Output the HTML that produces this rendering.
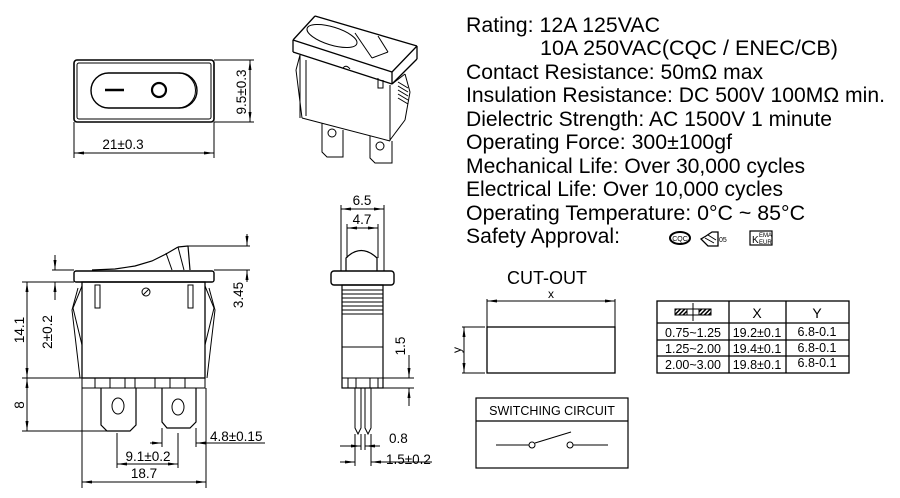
<!DOCTYPE html>
<html><head><meta charset="utf-8"><style>
body{margin:0;background:#fff}
svg{display:block}
text{font-family:"Liberation Sans",Arial,sans-serif;fill:#000}
.g path,.g rect,.g ellipse,.g circle,.g line,.g polyline,.g polygon{fill:none}
</style></head><body>
<svg width="900" height="498" viewBox="0 0 900 498" xmlns="http://www.w3.org/2000/svg">
<defs>
<marker id="a" viewBox="0 0 10 6" refX="10" refY="3" markerWidth="10" markerHeight="6" orient="auto-start-reverse" markerUnits="userSpaceOnUse"><path d="M0,1.5L10,3L0,4.5z" style="fill:#000"/></marker>
<pattern id="h" width="3" height="3" patternUnits="userSpaceOnUse" patternTransform="rotate(45)"><rect width="1.5" height="3" style="fill:#000"/></pattern>
</defs>
<rect x="0" y="0" width="900" height="498" fill="#fff"/>
<g class="g" stroke="#000" stroke-width="1" fill="none">
<!-- top view -->
<rect x="74" y="60" width="140" height="62" rx="3" stroke-width="1.6"/>
<rect x="77" y="63" width="134" height="56" rx="2"/>
<rect x="91" y="73" width="106" height="35" rx="17.5" stroke-width="1.4"/>
<path d="M108,73 H178 A17.5,17.5 0 0 1 178,108 H108" />
<line x1="105" y1="90" x2="124" y2="90" stroke-width="2.5"/>
<circle cx="159" cy="90" r="7" stroke-width="2.2"/>
<line x1="74" y1="122" x2="74" y2="158"/><line x1="214" y1="122" x2="214" y2="158"/>
<line x1="74" y1="153" x2="214" y2="153" marker-start="url(#a)" marker-end="url(#a)"/>
<line x1="214" y1="60" x2="254" y2="60"/><line x1="214" y1="122" x2="254" y2="122"/>
<line x1="250" y1="60" x2="250" y2="122" marker-start="url(#a)" marker-end="url(#a)"/>

<!-- perspective -->
<line x1="300" y1="55" x2="296" y2="70"/><line x1="296" y1="70" x2="302" y2="118"/>
<line x1="302" y1="118" x2="390" y2="141"/><line x1="390" y1="141" x2="390" y2="85"/>
<line x1="300" y1="55" x2="300" y2="118"/><line x1="306" y1="60" x2="306" y2="116"/>
<line x1="392" y1="84" x2="405" y2="74"/><line x1="405" y1="74" x2="410" y2="92"/><line x1="410" y1="92" x2="405" y2="120"/><line x1="405" y1="120" x2="390" y2="140"/>
<path d="M398,82 L408,88 M398,86 L408,92 M398,90 L408,96 M398,94 L408,100 M398,98 L408,104"/>
<line x1="293" y1="40" x2="315" y2="16" stroke-width="1.3"/>
<line x1="315" y1="16" x2="417" y2="46" stroke-width="1.3"/>
<line x1="417" y1="46" x2="392" y2="72" stroke-width="1.3"/>
<line x1="392" y1="72" x2="293" y2="40" stroke-width="1.3"/>
<line x1="293" y1="40" x2="293" y2="52" stroke-width="1.3"/>
<line x1="293" y1="52" x2="392" y2="84" stroke-width="1.3"/>
<line x1="392" y1="84" x2="417" y2="59" stroke-width="1.3"/>
<line x1="417" y1="59" x2="417" y2="46" stroke-width="1.3"/>
<line x1="392" y1="72" x2="392" y2="84" stroke-width="1.3"/>
<ellipse cx="332" cy="36" rx="26" ry="9" transform="rotate(17 332 36)"/>
<line x1="355" y1="33" x2="372" y2="58"/><line x1="372" y1="58" x2="388" y2="52"/><line x1="388" y1="52" x2="378" y2="36"/>
<path d="M322,123 V152 L327,157 H343 V130"/>
<circle cx="332" cy="133" r="4"/>
<path d="M370,136 V158 L375,163 H392 V141"/>
<circle cx="380" cy="146" r="4"/>
<path d="M343,68 Q346,64 350,69"/>
<path d="M378,78 V88 H383 V80"/>

<!-- front view -->
<polyline points="92,270 115,269 135,266 152,261 166,254 178,247" stroke-width="1.2"/>
<line x1="178" y1="247" x2="188" y2="246" stroke-width="1.2"/><line x1="188" y1="246" x2="190" y2="270" stroke-width="1.2"/>
<line x1="166" y1="253" x2="172" y2="270"/><line x1="178" y1="247" x2="184" y2="270"/>
<rect x="74" y="271" width="140" height="11" rx="2" stroke-width="1.4"/>
<rect x="82" y="282" width="123" height="96" stroke-width="1.3"/>
<polyline points="82,286 73,308 82,345"/>
<polyline points="205,286 214,308 205,345"/>
<polyline points="78,288 72,310 80,378"/>
<polyline points="209,288 215,310 207,378"/>
<rect x="95" y="285" width="5" height="23"/><rect x="188" y="285" width="5" height="23"/>
<circle cx="146" cy="292" r="4"/><line x1="143" y1="295" x2="149" y2="289"/>
<rect x="82" y="378" width="123" height="10"/>
<path d="M95,378v10M110,378v10M125,378v10M135,378v10M155,378v10M170,378v10M185,378v10"/>
<polyline points="101,388 101,425 107,431 130,431 136,425 136,388" stroke-width="1.2"/>
<polyline points="162,388 162,422 167,428 190,428 196,422 196,388" stroke-width="1.2"/>
<ellipse cx="118" cy="406" rx="6" ry="8"/><ellipse cx="178" cy="407" rx="6" ry="8"/>
<!-- front dims -->
<line x1="52" y1="270" x2="74" y2="270"/><line x1="188" y1="246" x2="250" y2="246"/><line x1="214" y1="270" x2="250" y2="270"/>
<line x1="247" y1="234" x2="247" y2="246" marker-end="url(#a)"/><line x1="247" y1="282" x2="247" y2="270" marker-end="url(#a)"/>
<line x1="55" y1="255" x2="55" y2="270" marker-end="url(#a)"/><line x1="55" y1="300" x2="55" y2="282" marker-end="url(#a)"/>
<line x1="22" y1="282" x2="74" y2="282"/><line x1="22" y1="378" x2="82" y2="378"/><line x1="22" y1="431" x2="107" y2="431"/>
<line x1="27" y1="282" x2="27" y2="378" marker-start="url(#a)" marker-end="url(#a)"/>
<line x1="27" y1="378" x2="27" y2="431" marker-start="url(#a)" marker-end="url(#a)"/>
<line x1="82" y1="388" x2="82" y2="488"/><line x1="206" y1="388" x2="206" y2="488"/>
<line x1="82" y1="482" x2="206" y2="482" marker-start="url(#a)" marker-end="url(#a)"/>
<line x1="117" y1="433" x2="117" y2="468"/><line x1="178" y1="433" x2="178" y2="468"/>
<line x1="117" y1="464" x2="178" y2="464" marker-start="url(#a)" marker-end="url(#a)"/>
<line x1="162" y1="428" x2="162" y2="447"/><line x1="196" y1="428" x2="196" y2="447"/>
<line x1="150" y1="443" x2="162" y2="443" marker-end="url(#a)"/><line x1="208" y1="443" x2="196" y2="443" marker-end="url(#a)"/><line x1="196" y1="443" x2="265" y2="443"/>

<!-- side view -->
<path d="M346,271 V258 Q361,243 377,258 V271" stroke-width="1.2"/>
<rect x="331" y="271" width="63" height="14" rx="3" stroke-width="1.4"/>
<rect x="342" y="285" width="41" height="103" stroke-width="1.2"/>
<path d="M342,290H383M342,294H383M342,298H383M342,302H383M342,306H383M342,310H383M342,314H383"/>
<line x1="342" y1="347" x2="383" y2="347"/>
<line x1="342" y1="378" x2="383" y2="378"/>
<path d="M348,378v10M356,378v10M370,378v10M378,378v10"/>
<polyline points="355,388 355,428 358,434 361,428 361,388"/>
<polyline points="365,388 365,428 368,434 371,428 371,388"/>
<line x1="341" y1="205" x2="341" y2="271"/><line x1="384" y1="205" x2="384" y2="271"/>
<line x1="341" y1="209" x2="384" y2="209" marker-start="url(#a)" marker-end="url(#a)"/>
<line x1="347" y1="224" x2="347" y2="258"/><line x1="378" y1="224" x2="378" y2="258"/>
<line x1="347" y1="228" x2="378" y2="228" marker-start="url(#a)" marker-end="url(#a)"/>
<line x1="383" y1="378" x2="414" y2="378"/><line x1="383" y1="388" x2="414" y2="388"/>
<line x1="409" y1="355" x2="409" y2="378" marker-end="url(#a)"/><line x1="409" y1="406" x2="409" y2="388" marker-end="url(#a)"/>
<line x1="355" y1="434" x2="355" y2="466"/><line x1="361" y1="434" x2="361" y2="450"/><line x1="365" y1="434" x2="365" y2="450"/><line x1="371" y1="434" x2="371" y2="466"/>
<line x1="340" y1="446" x2="361" y2="446" marker-end="url(#a)"/><line x1="380" y1="446" x2="365" y2="446" marker-end="url(#a)"/>
<line x1="340" y1="462" x2="355" y2="462" marker-end="url(#a)"/><line x1="386" y1="462" x2="371" y2="462" marker-end="url(#a)"/><line x1="371" y1="462" x2="432" y2="462"/>

<!-- cutout -->
<rect x="487" y="327" width="128" height="46" stroke-width="1.3"/>
<line x1="487" y1="299" x2="487" y2="327"/><line x1="615" y1="299" x2="615" y2="327"/>
<line x1="487" y1="301" x2="615" y2="301" marker-start="url(#a)" marker-end="url(#a)"/>
<line x1="462" y1="327" x2="485" y2="327"/><line x1="462" y1="373" x2="485" y2="373"/>
<line x1="464" y1="327" x2="464" y2="373" marker-start="url(#a)" marker-end="url(#a)"/>
<!-- table -->
<rect x="657" y="301" width="192" height="72" stroke-width="1.3"/>
<path d="M729,301V373M786,301V373M657,323H849M657,340H849M657,356H849" stroke-width="1.3"/>
<rect x="675" y="309" width="36" height="6" style="fill:url(#h)"/>
<rect x="687" y="309" width="12" height="6" style="fill:#fff"/>
<line x1="693" y1="303" x2="693" y2="321"/>
<!-- switching circuit -->
<rect x="476" y="398" width="152" height="70" stroke-width="1.2"/>
<line x1="476" y1="421" x2="628" y2="421" stroke-width="1.2"/>
<line x1="496" y1="445" x2="529" y2="445"/><circle cx="532" cy="445" r="3"/>
<line x1="535" y1="443" x2="571" y2="432"/><circle cx="570" cy="445" r="3"/>
<line x1="573" y1="445" x2="608" y2="445"/>
<!-- logos -->
<ellipse cx="680" cy="238" rx="10" ry="6" stroke-width="2"/>
<polygon points="712,232 706,236 701,239 708,246 718,246 718,232" stroke-width="1.3"/>
<path d="M705,238 L714,243 M708,235 L716,240"/>
<rect x="750" y="231" width="22" height="14" stroke-width="1.2"/>
</g>
<g font-size="13.5">
<text x="123" y="149" text-anchor="middle">21±0.3</text>
<text transform="translate(246,92) rotate(-90)" text-anchor="middle">9.5±0.3</text>
<text transform="translate(243,295) rotate(-90)" text-anchor="middle">3.45</text>
<text transform="translate(52,332) rotate(-90)" text-anchor="middle">2±0.2</text>
<text transform="translate(24,330) rotate(-90)" text-anchor="middle">14.1</text>
<text transform="translate(24,405) rotate(-90)" text-anchor="middle">8</text>
<text x="144" y="478" text-anchor="middle">18.7</text>
<text x="148" y="461" text-anchor="middle">9.1±0.2</text>
<text x="210" y="441">4.8±0.15</text>
<text x="362" y="205" text-anchor="middle">6.5</text>
<text x="362" y="224" text-anchor="middle">4.7</text>
<text transform="translate(405,346) rotate(-90)" text-anchor="middle">1.5</text>
<text x="389" y="443">0.8</text>
<text x="386" y="464">1.5±0.2</text>
<text x="551" y="298" text-anchor="middle" font-size="12">x</text>
<text transform="translate(461,350) rotate(-90)" text-anchor="middle" font-size="12">y</text>
<text x="757" y="318" text-anchor="middle" font-size="14">X</text>
<text x="817" y="318" text-anchor="middle" font-size="14">Y</text>
<text x="693" y="337" text-anchor="middle" font-size="12.5">0.75~1.25</text>
<text x="757" y="337" text-anchor="middle" font-size="12.5">19.2±0.1</text>
<text x="817" y="336" text-anchor="middle" font-size="12.5">6.8-0.1</text>
<text x="693" y="353" text-anchor="middle" font-size="12.5">1.25~2.00</text>
<text x="757" y="353" text-anchor="middle" font-size="12.5">19.4±0.1</text>
<text x="817" y="352" text-anchor="middle" font-size="12.5">6.8-0.1</text>
<text x="693" y="369" text-anchor="middle" font-size="12.5">2.00~3.00</text>
<text x="757" y="369" text-anchor="middle" font-size="12.5">19.8±0.1</text>
<text x="817" y="367" text-anchor="middle" font-size="12.5">6.8-0.1</text>
<text x="552" y="415" text-anchor="middle" font-size="12.5">SWITCHING CIRCUIT</text>
<text x="547" y="284" text-anchor="middle" font-size="18">CUT-OUT</text>
<text x="680" y="241" text-anchor="middle" font-size="7">CQC</text>
<text x="719" y="242" font-size="7">05</text>
<text x="752" y="243" font-size="10">K</text>
<text x="759" y="237" font-size="6">EMA</text>
<text x="759" y="244" font-size="6">EUR</text>
</g>
<g font-size="21">
<text x="466" y="32" textLength="194" lengthAdjust="spacingAndGlyphs">Rating: 12A 125VAC</text>
<text x="540" y="55" textLength="298" lengthAdjust="spacingAndGlyphs">10A  250VAC(CQC / ENEC/CB)</text>
<text x="466" y="79" textLength="297" lengthAdjust="spacingAndGlyphs">Contact Resistance: 50mΩ max</text>
<text x="466" y="102" textLength="419" lengthAdjust="spacingAndGlyphs">Insulation Resistance: DC 500V 100MΩ min.</text>
<text x="466" y="126" textLength="366" lengthAdjust="spacingAndGlyphs">Dielectric Strength: AC 1500V 1 minute</text>
<text x="466" y="149" textLength="266" lengthAdjust="spacingAndGlyphs">Operating Force: 300±100gf</text>
<text x="466" y="173" textLength="339" lengthAdjust="spacingAndGlyphs">Mechanical Life: Over 30,000 cycles</text>
<text x="466" y="196" textLength="317" lengthAdjust="spacingAndGlyphs">Electrical Life: Over 10,000 cycles</text>
<text x="466" y="220" textLength="339" lengthAdjust="spacingAndGlyphs">Operating Temperature: 0°C ~ 85°C</text>
<text x="466" y="243" textLength="154" lengthAdjust="spacingAndGlyphs">Safety Approval:</text>
</g>
</svg>
</body></html>
